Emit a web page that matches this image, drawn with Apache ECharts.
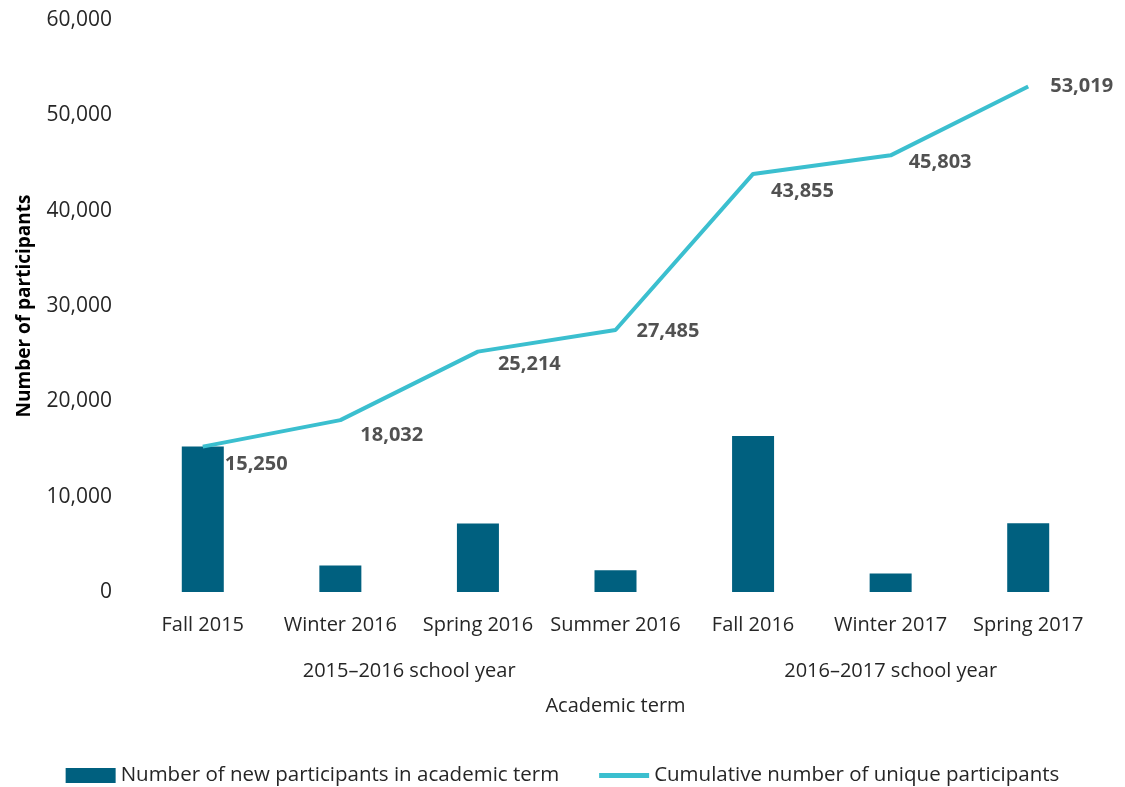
<!DOCTYPE html>
<html><head><meta charset="utf-8">
<script src="https://cdn.jsdelivr.net/npm/echarts@6/dist/echarts.min.js"></script>
<style>html,body{margin:0;padding:0;background:#fff}#c{width:1125px;height:787px}</style>
</head><body><div id="c"></div>
<script>
const terms = ['Fall 2015','Winter 2016','Spring 2016','Summer 2016','Fall 2016','Winter 2017','Spring 2017'];
const newParticipants = [15250, 2782, 7182, 2271, 16370, 1948, 7216];
const cumulative = [15250, 18032, 25214, 27485, 43855, 45803, 53019];
const schoolYears = ['2015\u20132016 school year', '2016\u20132017 school year'];
const schoolYearSpan = [[0, 3], [4, 6]];
const yTicks = [0, 10000, 20000, 30000, 40000, 50000, 60000];

const labelNudge = [[22, 18], [20, 15], [20, 13], [21, 1], [18, 17], [18, 7], [22, 0]];
const FONT = '"Open Sans", "Noto Sans", sans-serif';
const LINE_ICON = 'path://M0,0h0.01v0.01h-0.01z M0,5h50v5h-50z M49.99,14.99h0.01v0.01h-0.01z';
const chart = echarts.init(document.getElementById('c'));
chart.setOption({
  animation: false,
  grid: {left: 134, right: 28, top: 20, bottom: 195, containLabel: false},
  legend: {
    top: 760, left: 'center', itemGap: 40, itemWidth: 50, itemHeight: 15,
    textStyle: {fontFamily: FONT, fontSize: 20.5, color: '#262626'},
    data: [
      {name: 'Number of new participants in academic term', icon: 'rect'},
      {name: 'Cumulative number of unique participants', icon: LINE_ICON,
       itemStyle: {color: '#3bbfcf'}}
    ]
  },
  xAxis: {
    type: 'category', data: terms,
    axisLine: {show: false}, axisTick: {show: false},
    axisLabel: {fontFamily: FONT, fontSize: 20, color: '#262626', margin: 23, interval: 0},
    name: 'Academic term', nameLocation: 'middle', nameGap: 104,
    nameTextStyle: {fontFamily: FONT, fontSize: 20, color: '#262626'}
  },
  yAxis: {
    type: 'value', min: 0, max: 60000, interval: 10000,
    splitLine: {show: false}, axisLine: {show: false}, axisTick: {show: false},
    axisLabel: {fontFamily: FONT, fontSize: 21, color: '#262626', margin: 22,
      formatter: v => yTicks.includes(v) ? v.toLocaleString('en-US') : ''},
    name: 'Number of participants', nameLocation: 'middle', nameGap: 100, nameRotate: 90,
    nameTextStyle: {fontFamily: FONT, fontSize: 19, fontWeight: 'bold', color: '#000'}
  },
  series: [
    {
      name: 'Number of new participants in academic term', type: 'bar',
      data: newParticipants, barWidth: 42,
      itemStyle: {color: '#00607f'}
    },
    {
      name: 'Cumulative number of unique participants', type: 'line',
      data: cumulative, symbol: 'none',
      lineStyle: {color: '#3bbfcf', width: 4}, itemStyle: {color: '#3bbfcf'}
    },
    {
      name: 'labels', type: 'scatter', symbolSize: 0, silent: true,
      data: cumulative.map((v, i) => ({value: v, label: {position: labelNudge[i]}})),
      label: {show: true, align: 'left', verticalAlign: 'middle',
        fontFamily: FONT, fontSize: 20, fontWeight: 'bold', color: '#262626',
        formatter: p => p.value.toLocaleString('en-US')}
    }
  ]
});
const yPix = chart.convertToPixel({gridIndex: 0}, [0, 0])[1];
chart.setOption({
  graphic: schoolYears.map((t, i) => {
    const a = chart.convertToPixel({xAxisIndex: 0}, terms[schoolYearSpan[i][0]]);
    const b = chart.convertToPixel({xAxisIndex: 0}, terms[schoolYearSpan[i][1]]);
    return {type: 'text', x: (a + b) / 2, y: yPix + 79,
      style: {text: t, fontFamily: FONT, fontSize: 20, fill: '#262626', align: 'center', verticalAlign: 'middle'}};
  })
});
</script></body></html>
